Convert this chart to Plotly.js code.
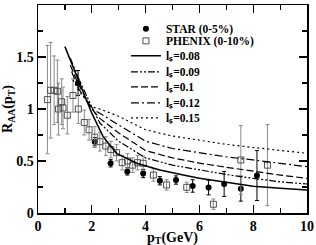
<!DOCTYPE html>
<html><head><meta charset="utf-8">
<script src="https://cdn.plot.ly/plotly-3.0.1.min.js"></script>
<style>body{margin:0;padding:0;background:#fff}#plot{width:316px;height:245px}</style>
</head><body><div id="plot"></div>
<script>
// STAR (0-5%)
const star_x = [1.49, 2.11, 2.70, 3.32, 3.91, 4.53, 5.13, 5.75, 6.34, 6.92, 7.54, 8.14];
const star_y = [1.25, 0.686, 0.478, 0.40, 0.38, 0.31, 0.317, 0.26, 0.244, 0.279, 0.234, 0.36];
const star_err = [0.12, 0.04, 0.035, 0.035, 0.04, 0.04, 0.04, 0.06, 0.07, 0.12, 0.12, 0.24];
// PHENIX (0-10%)
const phenix_x = [0.35,0.47,0.6,0.72,0.76,0.88,0.93,1.09,1.3,1.5,1.72,1.9,2.11,2.3,2.52,2.71,2.92,3.13,3.33,3.52,3.7,3.91,4.29,4.78,5.53,6.52,7.54,8.53];
const phenix_y = [1.09,1.18,1.18,1.17,1.0,1.07,1.01,0.94,1.13,1.0,0.87,0.80,0.73,0.686,0.644,0.61,0.58,0.484,0.50,0.46,0.484,0.478,0.365,0.27,0.247,0.084,0.51,0.46];
const phenix_err = [0.52,0.46,0.33,0.3,0.25,0.22,0.2,0.18,0.16,0.14,0.12,0.1,0.1,0.09,0.09,0.08,0.08,0.07,0.07,0.07,0.07,0.07,0.06,0.05,0.05,0.05,0.33,0.39];
// model curves
const ls008_x = [1.0,1.5,1.9,2.0,2.42,2.92,3.67,4.53,5.4,6,7,8,9,10];
const ls008_y = [1.60,1.28,1.02,0.96,0.734,0.574,0.478,0.413,0.365,0.335,0.295,0.258,0.238,0.221];
const ls009_x = [1.2,1.5,2.0,2.3,3,4,5,6,7,8,9,10];
const ls009_y = [1.49,1.30,1.02,0.865,0.69,0.53,0.46,0.413,0.37,0.333,0.30,0.279];
const ls010_x = [1.2,1.5,2.0,2.3,3,4,5,6,7,8,9,10];
const ls010_y = [1.42,1.24,1.0,0.91,0.77,0.60,0.53,0.48,0.44,0.40,0.365,0.333];
const ls012_x = [1.25,1.5,2.0,2.3,3,4,5,6,7,8,9,10];
const ls012_y = [1.36,1.20,1.0,0.96,0.846,0.69,0.62,0.577,0.54,0.51,0.475,0.445];
const ls015_x = [1.3,1.5,2.0,2.3,3,4,5,6,7,8,9,10];
const ls015_y = [1.28,1.18,1.02,1.0,0.93,0.80,0.74,0.70,0.66,0.63,0.60,0.574];
const curve_names = ['l\u209B=0.08','l\u209B=0.09','l\u209B=0.1','l\u209B=0.12','l\u209B=0.15'];
const x_ticks = [0,2,4,6,8,10];
const y_ticks = [0,0.5,1,1.5,2];

const F = 'Liberation Serif, Times New Roman, serif';
const traces = [
  {x: star_x, y: star_y, name: 'STAR (0-5%)', mode: 'markers', type: 'scatter',
   marker: {symbol: 'circle', size: 6, color: 'black'},
   error_y: {type: 'data', array: star_err, color: 'black', thickness: 1, width: 2}},
  {x: phenix_x, y: phenix_y, name: 'PHENIX (0-10%)', mode: 'markers', type: 'scatter',
   marker: {symbol: 'square-open', size: 6, color: '#505050', line: {width: 1}},
   error_y: {type: 'data', array: phenix_err, color: '#8a8a8a', thickness: 1, width: 2}},
];
const curves = [[ls008_x, ls008_y, 'solid', 1.5],[ls009_x, ls009_y, '7px,2px,2px,2px,2px,2px', 1.2],
  [ls010_x, ls010_y, '7px,3px', 1.2],[ls012_x, ls012_y, '8px,3px,2px,3px', 1.2],[ls015_x, ls015_y, '2px,3px', 1.2]];
curves.forEach((c, i) => traces.push({x: c[0], y: c[1], name: curve_names[i], mode: 'lines', type: 'scatter',
  line: {color: 'black', width: c[3], dash: c[2]}}));

const axBase = {showline: true, linecolor: 'black', linewidth: 1.5, mirror: 'allticks', ticks: 'inside',
  ticklen: 8, tickwidth: 1.2, tickcolor: 'black', showgrid: false, zeroline: false,
  tickfont: {family: F, size: 14, color: 'black', weight: 'bold'}};
const layout = {
  width: 316, height: 245, margin: {l: 38, r: 9, t: 5, b: 32},
  paper_bgcolor: 'white', plot_bgcolor: 'white', showlegend: true,
  xaxis: Object.assign({}, axBase, {range: [0, 10], tickvals: x_ticks, ticktext: x_ticks.map(String),
    minor: {dtick: 1, ticks: 'inside', ticklen: 5, tickcolor: 'black', tickwidth: 1.2},
    title: {text: 'p<sub>T</sub>(GeV)', font: {family: F, size: 14, color: 'black', weight: 'bold'}}}),
  yaxis: Object.assign({}, axBase, {range: [0, 2], tickvals: y_ticks, ticktext: y_ticks.map(String),
    minor: {dtick: 0.25, ticks: 'inside', ticklen: 5, tickcolor: 'black', tickwidth: 1.2},
    title: {text: 'R<sub>AA</sub>(p<sub>T</sub>)', font: {family: F, size: 14, color: 'black', weight: 'bold'}}}),
  legend: {x: 0.327, y: 0.955, xanchor: 'left', yanchor: 'top', bgcolor: 'rgba(0,0,0,0)', borderwidth: 0,
    font: {family: F, size: 11.5, color: 'black', weight: 'bold'}, tracegroupgap: 0, itemwidth: 30}
};
// legend row spacing (px, relative to first row) to match the compact reference legend
const legend_rows = [0, 12, 27, 43, 58, 74, 89];
const shiftT = /translate\(\s*([-\d.]+)[ ,]+([-\d.]+)\s*\)/;
Plotly.newPlot('plot', traces, layout, {staticPlot: true, displayModeBar: false}).then(gd => {
  const items = gd.querySelectorAll('.legend .traces');
  if (items.length) {
    const m0 = shiftT.exec(items[0].getAttribute('transform') || '');
    const y0 = m0 ? parseFloat(m0[2]) : 0;
    items.forEach((el, i) => {
      const m = shiftT.exec(el.getAttribute('transform') || '');
      const xx = m ? parseFloat(m[1]) : 0;
      el.setAttribute('transform', 'translate(' + xx + ',' + (y0 + legend_rows[i]) + ')');
    });
  }
  // nudge the x-axis title down slightly, as in the reference
  const xt = gd.querySelector('.g-xtitle text');
  if (xt) xt.setAttribute('transform', 'translate(0,1.5)');
});
</script></body></html>
